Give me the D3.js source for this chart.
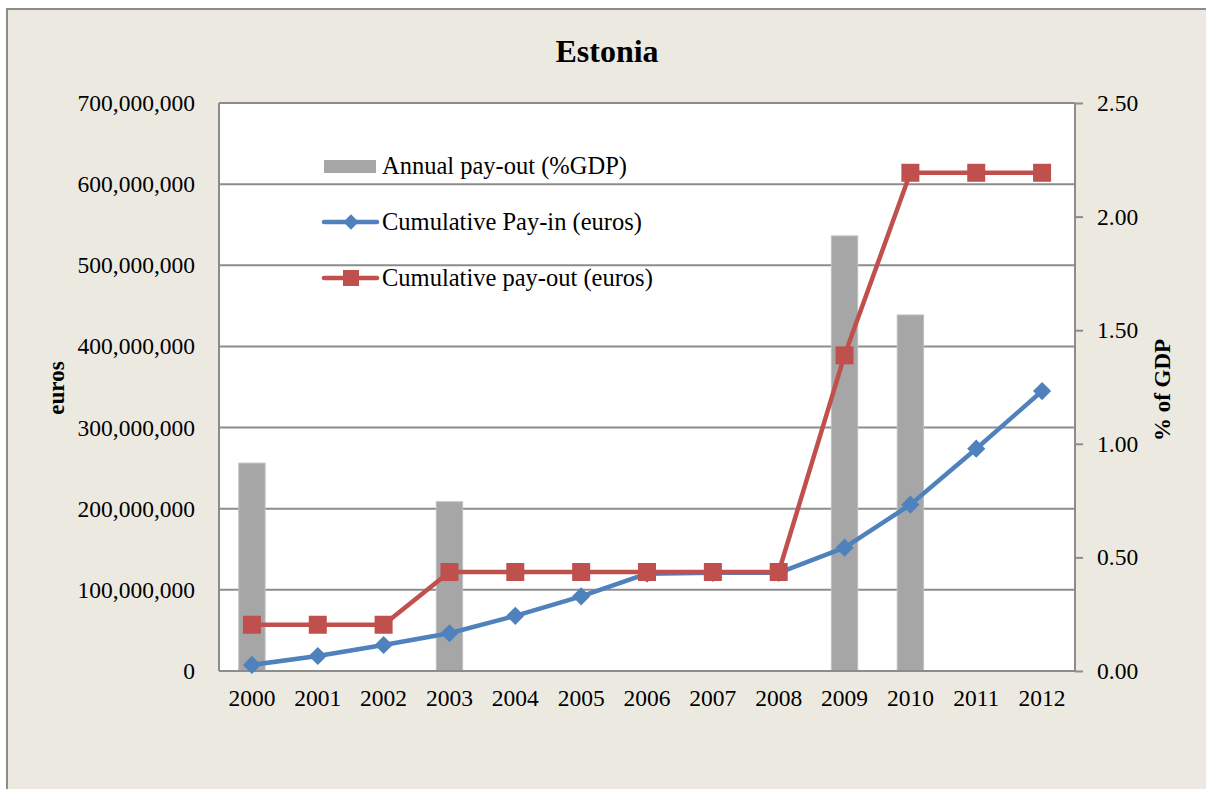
<!DOCTYPE html>
<html>
<head>
<meta charset="utf-8">
<script src="https://cdn.jsdelivr.net/npm/d3@7"></script>
<style>
  body { margin: 0; background: #fff; }
  svg text { font-family: "Liberation Serif", "DejaVu Serif", serif; fill: #000; }
</style>
</head>
<body>
<script>
// Data
var years = ["2000", "2001", "2002", "2003", "2004", "2005", "2006",
             "2007", "2008", "2009", "2010", "2011", "2012"];
// Annual pay-out, % of GDP (right axis)
var payoutPct = [0.915, 0, 0, 0.745, 0, 0, 0, 0, 0, 1.915, 1.567, 0, 0];
// Cumulative pay-in, euros
var payIn = [7.5e6, 18.5e6, 32e6, 46.5e6, 68e6, 92e6, 120e6,
             121e6, 121e6, 152e6, 205e6, 274e6, 345e6];
// Cumulative pay-out, euros
var payOut = [57e6, 57e6, 57e6, 122e6, 122e6, 122e6, 122e6,
              122e6, 122e6, 389e6, 614e6, 614e6, 614e6];
var leftTicks = [0, 1e8, 2e8, 3e8, 4e8, 5e8, 6e8, 7e8];
var rightTicks = [0, 0.5, 1, 1.5, 2, 2.5];

var W = 1206, H = 789;
var margin = {top: 103, right: 131, bottom: 118, left: 219},
  width = W - margin.left - margin.right,
  height = H - margin.top - margin.bottom;

var svg = d3.select("body").append("svg")
  .attr("width", W)
  .attr("height", H);

// Chart background with border
svg.append("rect")
  .attr("x", 7).attr("y", 9)
  .attr("width", W + 10).attr("height", H + 10)
  .attr("fill", "#ECEAE0")
  .attr("stroke", "#8c8c8c")
  .attr("stroke-width", 2);

svg.append("text")
  .attr("x", 607).attr("y", 62)
  .style("text-anchor", "middle")
  .style("font-weight", "bold")
  .style("font-size", "32px")
  .text("Estonia");

var g = svg.append("g")
  .attr("transform", "translate(" + margin.left + "," + margin.top + ")");

// Scales
var x = d3.scaleBand().domain(years).range([0, width]);
var yL = d3.scaleLinear().domain([0, 7e8]).range([height, 0]);
var yR = d3.scaleLinear().domain([0, 2.5]).range([height, 0]);

// Plot area
g.append("rect")
  .attr("width", width).attr("height", height)
  .attr("fill", "#fff");

// Gridlines
g.selectAll(".grid")
  .data(leftTicks.slice(1))
  .enter().append("line")
  .attr("x1", 0).attr("x2", width)
  .attr("y1", function (d) { return yL(d); })
  .attr("y2", function (d) { return yL(d); })
  .attr("stroke", "#8c8c8c")
  .attr("stroke-width", 2);

// Bars
var barW = x.bandwidth() * 0.4;
g.selectAll(".bar")
  .data(years.map(function (y, i) { return {year: y, v: payoutPct[i]}; })
    .filter(function (d) { return d.v > 0; }))
  .enter().append("rect")
  .attr("class", "bar")
  .attr("x", function (d) { return x(d.year) + (x.bandwidth() - barW) / 2; })
  .attr("y", function (d) { return yR(d.v); })
  .attr("width", barW)
  .attr("height", function (d) { return height - yR(d.v); })
  .attr("fill", "#A6A6A6")
  .attr("stroke", "#BFBFBF")
  .attr("stroke-width", 1);

// Axes frame
g.append("line").attr("x1", 0).attr("x2", 0).attr("y1", 0).attr("y2", height)
  .attr("stroke", "#8c8c8c").attr("stroke-width", 2);
g.append("line").attr("x1", width).attr("x2", width).attr("y1", 0).attr("y2", height)
  .attr("stroke", "#8c8c8c").attr("stroke-width", 2);
g.append("line").attr("x1", 0).attr("x2", width).attr("y1", height).attr("y2", height)
  .attr("stroke", "#8c8c8c").attr("stroke-width", 2);

// Left axis
var axL = g.append("g")
  .call(d3.axisLeft(yL).tickValues(leftTicks).tickSize(0).tickPadding(24)
    .tickFormat(function (d) { return d === 0 ? "0" : d3.format(",")(d); }));
axL.select(".domain").remove();
axL.selectAll("text").style("font-size", "23.5px")
  .style("font-family", "Liberation Serif, serif");

// Right axis
var axR = g.append("g")
  .attr("transform", "translate(" + width + ",0)")
  .call(d3.axisRight(yR).tickValues(rightTicks).tickSize(8).tickPadding(14)
    .tickFormat(d3.format(".2f")));
axR.select(".domain").remove();
axR.selectAll("line").attr("stroke", "#8c8c8c").attr("stroke-width", 2);
axR.selectAll("text").style("font-size", "23.5px")
  .style("font-family", "Liberation Serif, serif");

// Bottom axis
var axB = g.append("g")
  .attr("transform", "translate(0," + height + ")")
  .call(d3.axisBottom(x).tickSize(0).tickPadding(18));
axB.select(".domain").remove();
axB.selectAll("text").style("font-size", "23.5px")
  .style("font-family", "Liberation Serif, serif");

// Axis titles
svg.append("text")
  .attr("transform", "translate(64,388) rotate(-90)")
  .style("text-anchor", "middle")
  .style("font-weight", "bold")
  .style("font-size", "23px")
  .text("euros");
svg.append("text")
  .attr("transform", "translate(1170,390) rotate(-90)")
  .style("text-anchor", "middle")
  .style("font-weight", "bold")
  .style("font-size", "23px")
  .text("% of GDP");

// Lines
var cx = function (i) { return x(years[i]) + x.bandwidth() / 2; };
var line = d3.line()
  .x(function (d, i) { return cx(i); })
  .y(function (d) { return yL(d); });

var blue = "#4F81BD", red = "#C0504D";

g.append("path").datum(payIn)
  .attr("d", line).attr("fill", "none")
  .attr("stroke", blue).attr("stroke-width", 4.5)
  .attr("stroke-linejoin", "round");
g.selectAll(".dia")
  .data(payIn).enter().append("path")
  .attr("d", d3.symbol().type(d3.symbolDiamond2).size(210))
  .attr("transform", function (d, i) { return "translate(" + cx(i) + "," + yL(d) + ")"; })
  .attr("fill", blue);

g.append("path").datum(payOut)
  .attr("d", line).attr("fill", "none")
  .attr("stroke", red).attr("stroke-width", 4.5)
  .attr("stroke-linejoin", "round");
g.selectAll(".sq")
  .data(payOut).enter().append("rect")
  .attr("x", function (d, i) { return cx(i) - 9; })
  .attr("y", function (d) { return yL(d) - 9; })
  .attr("width", 18).attr("height", 18)
  .attr("fill", red);

// Legend
var leg = svg.append("g");
leg.append("rect")
  .attr("x", 324).attr("y", 160).attr("width", 52).attr("height", 13)
  .attr("fill", "#A6A6A6");
leg.append("text").attr("x", 382).attr("y", 174)
  .style("font-size", "24.5px").text("Annual pay-out (%GDP)");

leg.append("line").attr("x1", 324).attr("x2", 377).attr("y1", 222).attr("y2", 222)
  .attr("stroke", blue).attr("stroke-width", 4.5).attr("stroke-linecap", "round");
leg.append("path")
  .attr("d", d3.symbol().type(d3.symbolDiamond2).size(150))
  .attr("transform", "translate(351,222)")
  .attr("fill", blue);
leg.append("text").attr("x", 382).attr("y", 230)
  .style("font-size", "24.5px").text("Cumulative Pay-in (euros)");

leg.append("line").attr("x1", 324).attr("x2", 377).attr("y1", 278).attr("y2", 278)
  .attr("stroke", red).attr("stroke-width", 4.5).attr("stroke-linecap", "round");
leg.append("rect")
  .attr("x", 343).attr("y", 270).attr("width", 16).attr("height", 16)
  .attr("fill", red);
leg.append("text").attr("x", 382).attr("y", 286)
  .style("font-size", "24.5px").text("Cumulative pay-out (euros)");
</script>
</body>
</html>
